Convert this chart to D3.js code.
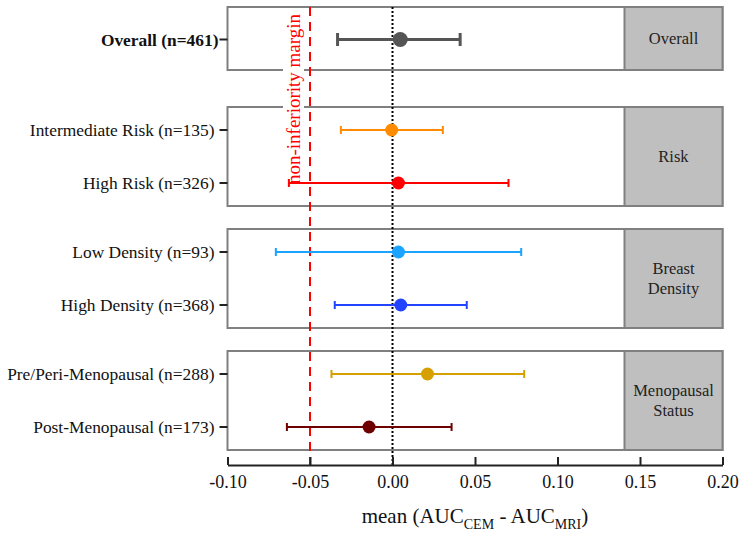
<!DOCTYPE html>
<html>
<head>
<meta charset="utf-8">
<script src="https://cdn.jsdelivr.net/npm/d3@7"></script>
<style>
  body { margin: 0; background: #fff; }
  svg { font-family: "Liberation Serif", "Times New Roman", serif; }
</style>
</head>
<body>
<div id="chart"></div>
<script>
// forest plot: mean difference AUC (CEM - MRI) by subgroup

const labels = ["Overall (n=461)", "Intermediate Risk (n=135)", "High Risk (n=326)",
  "Low Density (n=93)", "High Density (n=368)",
  "Pre/Peri-Menopausal (n=288)", "Post-Menopausal (n=173)"];
const groups = ["Overall", "Risk", "Risk", "Breast Density", "Breast Density",
  "Menopausal Status", "Menopausal Status"];
const groupTitles = [["Overall"], ["Risk"], ["Breast", "Density"], ["Menopausal", "Status"]];
const means = [0.0047, -0.0005, 0.0036, 0.0036, 0.005, 0.0212, -0.0142];
const lower = [-0.0333, -0.0313, -0.0628, -0.0707, -0.035, -0.037, -0.064];
const upper = [0.041, 0.0305, 0.0703, 0.078, 0.045, 0.0798, 0.0358];
const colors = ["#555555", "#ff8c00", "#ff0000", "#1aa3ff", "#2244ff", "#d6a000", "#6e0000"];
const xTicks = [-0.10, -0.05, 0.00, 0.05, 0.10, 0.15, 0.20];
const nonInferiority = -0.05;

const W = 746, H = 533;
const svg = d3.select("#chart").append("svg").attr("width", W).attr("height", H);

const x = d3.scaleLinear().domain([-0.10, 0.20]).range([227.5, 722.5]);

// panel layout: each group gets a box, rows inside it
const groupNames = [...new Set(groups)];
const gaps = [7, 37, 23, 23];
const rowStep = 53, pad = 23, singleH = 63;
let cur = 0;
const panels = groupNames.map((g, i) => {
  const n = groups.filter(d => d === g).length;
  const h = n === 1 ? singleH : pad * 2 + rowStep * (n - 1);
  cur += gaps[i];
  const p = { name: g, top: cur, h: h, n: n };
  cur += h;
  return p;
});
const rows = labels.map((l, i) => {
  const p = panels.find(d => d.name === groups[i]);
  const k = groups.slice(0, i).filter(d => d === groups[i]).length;
  const y = p.n === 1 ? p.top + p.h / 2 + 1 : p.top + pad + k * rowStep;
  return { label: l, y: y, mean: means[i], lo: lower[i], hi: upper[i], color: colors[i], bold: i === 0 };
});

const axisY = 465;
const stripW = 98;
const left = x.range()[0], right = x.range()[1];

// panel boxes + grey strips
panels.forEach((p, i) => {
  svg.append("rect").attr("x", left).attr("y", p.top).attr("width", right - left).attr("height", p.h)
    .attr("fill", "#fff").attr("stroke", "#808080").attr("stroke-width", 2);
  svg.append("rect").attr("x", right - stripW).attr("y", p.top).attr("width", stripW).attr("height", p.h)
    .attr("fill", "#bfbfbf").attr("stroke", "#808080").attr("stroke-width", 2);
  const lines = groupTitles[i];
  const cx = right - stripW / 2, cy = p.top + p.h / 2;
  lines.forEach((t, j) => {
    svg.append("text").attr("x", cx).attr("y", cy + (j - (lines.length - 1) / 2) * 20)
      .attr("dy", "0.35em").attr("text-anchor", "middle")
      .style("font-size", "16.5px").attr("fill", "#222").text(t);
  });
});

// reference lines
svg.append("line").attr("x1", x(0)).attr("x2", x(0)).attr("y1", 7).attr("y2", axisY)
  .attr("stroke", "#000").attr("stroke-width", 2).attr("stroke-dasharray", "2,2");

const marginG = svg.append("g");
marginG.append("line").attr("x1", x(nonInferiority)).attr("x2", x(nonInferiority))
  .attr("y1", 7).attr("y2", axisY)
  .attr("stroke", "#ff0000").attr("stroke-width", 2).attr("stroke-dasharray", "9,6");
marginG.append("rect").attr("x", x(nonInferiority) - 27).attr("y", 12)
  .attr("width", 21).attr("height", 174).attr("fill", "#fff");
marginG.append("text")
  .attr("transform", `translate(${x(nonInferiority) - 10},99) rotate(-90)`)
  .attr("text-anchor", "middle").attr("fill", "#ff0000")
  .style("font-size", "19px").text("non-inferiority margin");

// left row labels with small ticks
rows.forEach(r => {
  svg.append("line").attr("x1", left - 8).attr("x2", left).attr("y1", r.y).attr("y2", r.y)
    .attr("stroke", "#222").attr("stroke-width", 2);
  svg.append("text").attr("x", r.bold ? left - 9 : left - 13).attr("y", r.y).attr("dy", "0.35em")
    .attr("text-anchor", "end").style("font-size", "17.4px")
    .style("font-weight", r.bold ? "bold" : "normal").attr("fill", "#111").text(r.label);
});

// error bars + points
rows.forEach(r => {
  const g = svg.append("g");
  const sw = r.bold ? 3 : 2;
  const cap = r.bold ? 6.5 : 4;
  g.append("line").attr("x1", x(r.lo)).attr("x2", x(r.hi)).attr("y1", r.y).attr("y2", r.y)
    .attr("stroke", r.color).attr("stroke-width", sw);
  [r.lo, r.hi].forEach(v => {
    g.append("line").attr("x1", x(v)).attr("x2", x(v)).attr("y1", r.y - cap).attr("y2", r.y + cap)
      .attr("stroke", r.color).attr("stroke-width", sw);
  });
  g.append("circle").attr("cx", x(r.mean)).attr("cy", r.y).attr("r", r.bold ? 7.5 : 6.5)
    .attr("fill", r.color);
});

// x axis, ticks pointing up, hyphen minus like the original
const fmt = d3.format(".2f");
const axis = svg.append("g").attr("transform", `translate(0,${axisY})`)
  .call(d3.axisBottom(x).tickValues(xTicks).tickFormat(d => fmt(d).replace("\u2212", "-"))
    .tickSizeInner(-8).tickSizeOuter(0).tickPadding(10));
axis.select(".domain").attr("stroke", "#222").attr("stroke-width", 2);
axis.selectAll(".tick line").attr("stroke", "#222").attr("stroke-width", 2);
axis.selectAll(".tick text").style("font-size", "18px").style("font-family", "Liberation Serif, serif")
  .attr("fill", "#111");

const title = svg.append("text").attr("x", x(0.05)).attr("y", 523).attr("text-anchor", "middle")
  .style("font-size", "21px").attr("fill", "#111");
title.append("tspan").text("mean (AUC");
title.append("tspan").attr("dy", 6).style("font-size", "14px").text("CEM");
title.append("tspan").attr("dy", -6).text(" - AUC");
title.append("tspan").attr("dy", 6).style("font-size", "14px").text("MRI");
title.append("tspan").attr("dy", -6).text(")");
</script>
</body>
</html>
